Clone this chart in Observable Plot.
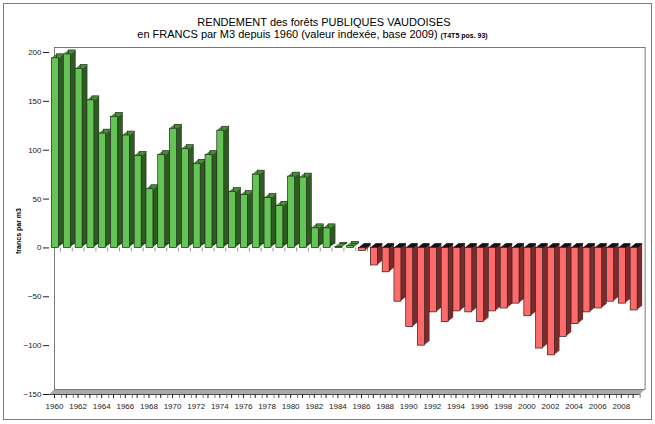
<!DOCTYPE html>
<html>
<head>
<meta charset="utf-8">
<script src="https://cdn.jsdelivr.net/npm/d3@7"></script>
<script src="https://cdn.jsdelivr.net/npm/@observablehq/plot@0.6"></script>
<style>
  body { margin: 0; background: #fff; }
  #wrap { position: relative; width: 655px; height: 424px; background: #fff; font-family: "Liberation Sans", Arial, sans-serif; overflow: hidden; }
  #chart { position: absolute; left: 0; top: 0; }
  .frame { position: absolute; left: 3px; top: 3px; width: 647px; height: 415px; border: 1.5px solid #7c7c7c; pointer-events: none; }
  .t { position: absolute; left: 0; text-align: center; font-size: 11px; line-height: 1; color: #000; white-space: nowrap; }
  .small { font-size: 7px; font-weight: bold; }
  .ylab { position: absolute; left: 18px; top: 231px; transform: translate(-50%, -50%) rotate(-90deg); font-size: 7px; font-weight: bold; white-space: nowrap; }
</style>
</head>
<body>
<div id="wrap">
  <div id="chart"></div>
  <div class="t" style="top:17px;width:648px;">RENDEMENT des forêts PUBLIQUES VAUDOISES</div>
  <div class="t" style="top:29px;width:625px;">en FRANCS par M3 depuis 1960 (valeur indexée, base 2009) <span class="small">(T4T5 pos. 93)</span></div>
  <div class="ylab">francs par m3</div>
  <div class="frame"></div>
</div>
<script>
const years = [1960,1961,1962,1963,1964,1965,1966,1967,1968,1969,
  1970,1971,1972,1973,1974,1975,1976,1977,1978,1979,
  1980,1981,1982,1983,1984,1985,1986,1987,1988,1989,
  1990,1991,1992,1993,1994,1995,1996,1997,1998,1999,
  2000,2001,2002,2003,2004,2005,2006,2007,2008,2009];
const values = [194,198,183,151,117,134,115,94,60,95,
  122,101,86,95,120,57,54,75,51,43,
  73,72,20,20,1,2,-3,-18,-25,-55,
  -81,-100,-66,-76,-65,-66,-76,-65,-62,-57,
  -70,-103,-110,-91,-78,-66,-62,-55,-57,-64];
const yTicks = [-150,-100,-50,0,50,100,150,200];
const xLabelYears = [1960,1962,1964,1966,1968,1970,1972,1974,1976,1978,1980,1982,1984,1986,1988,1990,1992,1994,1996,1998,2000,2002,2004,2006,2008];

const data = years.map((year, i) => ({year, value: values[i]}));
const pos = data.filter(d => d.value >= 0);
const neg = data.filter(d => d.value < 0);

const C = {
  gFront: "#64c455", gSide: "#2e5c21", gTop: "#4b8e3c",
  rFront: "#ff6a6a", rSide: "#7a2c2c", rTop: "#111111",
  outline: "#1c1c1c"
};
const steps = [5, 4, 3, 2, 1, 0];
const marks = [];

// back wall
marks.push(Plot.frame({stroke: "#5a5a5a", strokeWidth: 0.8, dx: 5, dy: -5}));
// floor
for (const i of [1, 2, 3, 4]) marks.push(Plot.ruleY([-150], {stroke: "#a9a9a9", strokeWidth: 1.2, dx: i, dy: -i}));
marks.push(Plot.ruleY([-150], {stroke: "#4a4a4a", strokeWidth: 1}));
// small ticks at zero level
marks.push(Plot.ruleX(data, {x: "year", y1: 0, y2: -4, stroke: "#777", strokeWidth: 0.8, dx: 5}));

// 3D extrusion (sides)
for (const i of steps) {
  marks.push(Plot.barY(pos, {x: "year", y: "value", fill: C.gSide, dx: i, dy: -0.8 * i}));
  marks.push(Plot.barY(neg, {x: "year", y: "value", fill: C.rSide, dx: i, dy: -0.8 * i}));
}
// top faces
for (const i of steps) {
  marks.push(Plot.tickY(pos, {x: "year", y: "value", stroke: C.gTop, strokeWidth: 1.3, dx: i, dy: -0.8 * i}));
  marks.push(Plot.tickY(neg, {x: "year", y: () => 0, stroke: C.rTop, strokeWidth: 1.3, dx: i, dy: -0.8 * i}));
}
// edge outlines of the prism
marks.push(Plot.barY(pos, {x: "year", y: "value", fill: "none", stroke: C.outline, strokeWidth: 0.5, dx: 5, dy: -4}));
// front faces
marks.push(Plot.barY(data, {x: "year", y: "value", fill: d => d.value >= 0 ? C.gFront : C.rFront, stroke: C.outline, strokeWidth: 0.6}));

// axes
marks.push(Plot.axisY({ticks: yTicks, tickSize: 6, tickPadding: 2, fontSize: 8, label: null}));
marks.push(Plot.axisX({ticks: years, tickSize: 4, tickPadding: 5, fontSize: 8, label: null, dx: -1,
  tickFormat: d => xLabelYears.includes(d) ? String(d) : ""}));
marks.push(Plot.ruleX(data, {x: "year", y1: -150, y2: -154, stroke: "#555", strokeWidth: 0.8, dx: 6}));

const chart = Plot.plot({
  width: 655,
  height: 424,
  marginLeft: 49,
  marginRight: 15.4,
  marginTop: 52,
  marginBottom: 30,
  style: {fontFamily: "Liberation Sans, Arial, sans-serif", fontSize: "8px", background: "transparent", overflow: "visible", color: "#222"},
  x: {type: "band", domain: years, paddingInner: 0.41, paddingOuter: 0.21},
  y: {domain: [-150, 200], line: true},
  marks
});
document.getElementById("chart").appendChild(chart);
</script>
</body>
</html>
